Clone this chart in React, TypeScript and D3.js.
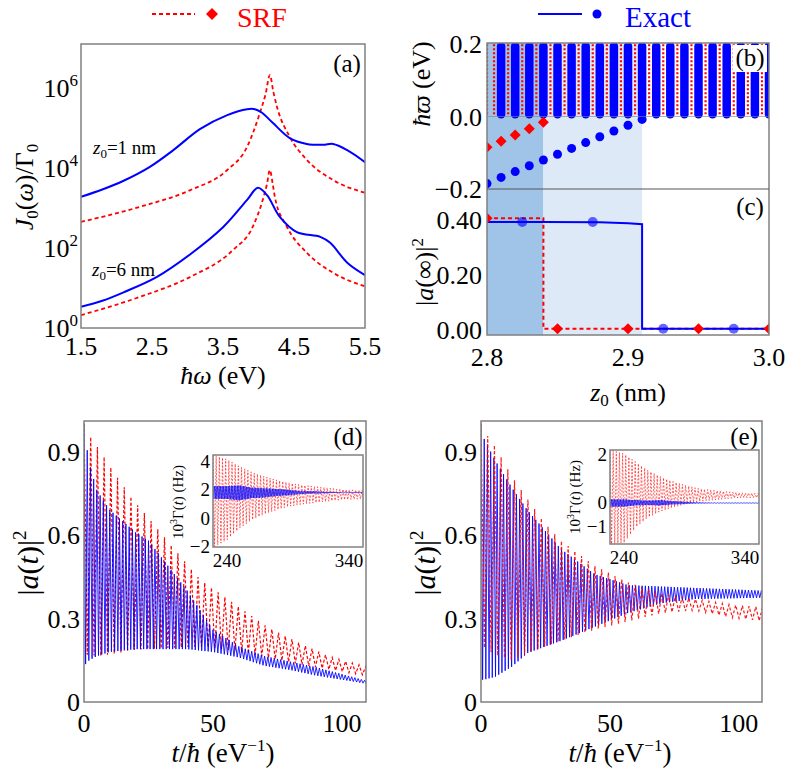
import React from "react";
import * as d3 from "d3";

const FONT = '"Liberation Serif", "Times New Roman", Times, "DejaVu Serif", serif';
const BLUE = "#0000ff";
const RED = "#ff0000";
const FRAME = "#808080";
const SHADE_DARK = "#a0c4e8";
const SHADE_LIGHT = "#dde9f6";

// ---- (a) spectral density J0(w)/Gamma0
const wExact1 = [1.5, 1.8, 2.1, 2.47, 2.8, 3.18, 3.56, 3.84, 3.95, 4.05, 4.2, 4.44, 4.68, 4.91, 5.05, 5.25, 5.5];
const jExact1 = [1.9e3, 2.9e3, 4.8e3, 1.07e4, 2.8e4, 9.5e4, 2.1e5, 2.95e5, 2.95e5, 2.4e5, 1.35e5, 5.6e4, 4.0e4, 3.8e4, 4.0e4, 2.8e4, 1.4e4];
const wSrf1 = [1.5, 2.33, 3.04, 3.56, 3.84, 4.02, 4.1, 4.16, 4.21, 4.26, 4.44, 4.68, 5.05, 5.5];
const jSrf1 = [450, 1.07e3, 2.8e3, 8.9e3, 3.4e4, 2.4e5, 7.1e5, 2.1e6, 7.9e5, 3.4e5, 6.0e4, 1.6e4, 5.0e3, 2.4e3];
const wExact6 = [1.5, 1.8, 2.1, 2.57, 3.04, 3.5, 3.84, 3.99, 4.12, 4.3, 4.54, 4.87, 5.01, 5.25, 5.5];
const jExact6 = [3.4, 4.8, 7.8, 19, 70, 330, 1.6e3, 3.2e3, 2.1e3, 600, 250, 190, 135, 43, 21];
const wSrf6 = [1.5, 2.33, 3.04, 3.64, 3.92, 4.06, 4.12, 4.16, 4.2, 4.23, 4.4, 4.68, 5.05, 5.5];
const jSrf6 = [2.1, 6.0, 19, 89, 340, 1.6e3, 4.0e3, 8.9e3, 4.0e3, 1.9e3, 340, 76, 24, 11];
const aXTicks = [1.5, 2.5, 3.5, 4.5, 5.5];
const aYTicks = [0, 2, 4, 6];

// ---- (b) bound state energies and continuum columns
const zBoundExact = [2.8, 2.81, 2.82, 2.83, 2.84, 2.85, 2.86, 2.87, 2.88, 2.89, 2.9, 2.91];
const eBoundExact = [-0.185, -0.168, -0.152, -0.136, -0.12, -0.104, -0.088, -0.072, -0.056, -0.04, -0.024, -0.008];
const zBoundSrf = [2.8, 2.81, 2.82, 2.83, 2.84];
const eBoundSrf = [-0.085, -0.068, -0.051, -0.034, -0.016];
const zContExact = [2.81, 2.82, 2.83, 2.84, 2.85, 2.86, 2.87, 2.88, 2.89, 2.9, 2.91, 2.92, 2.93, 2.94, 2.95, 2.96, 2.97, 2.98, 2.99, 3.0];
const zContSrf = [2.8, 2.805, 2.815, 2.825, 2.835, 2.845, 2.855, 2.865, 2.875, 2.885, 2.895, 2.905, 2.915, 2.925, 2.935, 2.945, 2.955, 2.965, 2.975, 2.985, 2.995];
const contRange = [0.006, 0.194];
const bYTicks = [0.2, 0, -0.2];
const bYLabels = ["0.2", "0.0", "\u22120.2"];

// ---- (c) steady-state population
const zStepExact = [2.8, 2.84, 2.88, 2.9, 2.91, 2.91, 3.0];
const pStepExact = [0.393, 0.393, 0.392, 0.388, 0.385, 0.005, 0.005];
const zStepSrf = [2.8, 2.84, 2.84, 3.0];
const pStepSrf = [0.407, 0.407, 0.005, 0.005];
const zMarkExact = [2.825, 2.875, 2.925, 2.975];
const pMarkExact = [0.393, 0.393, 0.005, 0.005];
const zMarkSrf = [2.8, 2.85, 2.9, 2.95, 3.0];
const pMarkSrf = [0.407, 0.005, 0.005, 0.005, 0.005];
const cYTicks = [0.4, 0.2, 0.0];
const cXTicks = [2.8, 2.9, 3.0];
const zShadeDark = [2.8, 2.84];
const zShadeLight = [2.84, 2.91];

// ---- (d) |a(t)|^2 envelopes (upper / lower of the fast oscillation)
const tExactD = [0, 1, 2, 5, 10, 20, 25, 30, 35, 40, 45, 50, 60, 70, 80, 90, 100, 110];
const upExactD = [1.0, 0.92, 0.86, 0.76, 0.69, 0.61, 0.58, 0.52, 0.46, 0.4, 0.33, 0.26, 0.2, 0.165, 0.145, 0.125, 0.1, 0.075];
const loExactD = [0.13, 0.14, 0.15, 0.165, 0.18, 0.19, 0.19, 0.19, 0.19, 0.19, 0.185, 0.18, 0.16, 0.13, 0.115, 0.095, 0.08, 0.065];
const tSrfD = [0, 1.3, 6, 12.7, 19, 25.6, 32, 45, 58, 71, 84, 96, 110];
const upSrfD = [1.0, 0.97, 0.906, 0.81, 0.727, 0.655, 0.583, 0.44, 0.355, 0.27, 0.21, 0.16, 0.125];
const loSrfD = [0.17, 0.17, 0.165, 0.175, 0.187, 0.19, 0.194, 0.2, 0.185, 0.16, 0.135, 0.115, 0.095];

// ---- (e)
const tExactE = [0, 1, 5.4, 12, 18, 31, 44, 57, 70, 83, 110];
const upExactE = [1.0, 0.95, 0.87, 0.77, 0.69, 0.55, 0.46, 0.42, 0.415, 0.41, 0.4];
const loExactE = [0.08, 0.08, 0.09, 0.127, 0.176, 0.22, 0.27, 0.32, 0.355, 0.37, 0.375];
const tSrfE = [0, 0.4, 5.4, 12, 18, 25, 31, 44, 57, 70, 83, 96, 110];
const upSrfE = [1.0, 0.985, 0.92, 0.81, 0.73, 0.64, 0.58, 0.49, 0.43, 0.39, 0.37, 0.35, 0.34];
const loSrfE = [0.2, 0.2, 0.17, 0.15, 0.175, 0.2, 0.22, 0.26, 0.29, 0.32, 0.33, 0.305, 0.29];
const mainXTicks = [0, 50, 100];
const mainYTicks = [0, 0.3, 0.6, 0.9];
const mainYLabels = ["0", "0.3", "0.6", "0.9"];

// ---- insets 10^3 Gamma(t)
const tInset = [229, 240, 250, 260, 270, 280, 290, 300, 310, 320, 330, 340, 352];
const upSrfDI = [4.5, 4.2, 3.7, 3.3, 3.0, 2.75, 2.55, 2.4, 2.3, 2.2, 2.1, 2.05, 2.0];
const loSrfDI = [-2.0, -1.5, -0.7, -0.1, 0.3, 0.6, 0.85, 1.0, 1.1, 1.2, 1.3, 1.35, 1.4];
const upExactDI = [2.3, 2.3, 2.35, 2.2, 2.15, 2.1, 2.05, 1.95, 1.95, 1.9, 1.88, 1.87, 1.86];
const loExactDI = [1.4, 1.4, 1.3, 1.45, 1.5, 1.6, 1.65, 1.75, 1.78, 1.8, 1.82, 1.83, 1.84];
const upSrfEI = [2.2, 2.05, 1.7, 1.35, 1.1, 0.9, 0.75, 0.62, 0.55, 0.5, 0.45, 0.42, 0.4];
const loSrfEI = [-1.7, -1.65, -1.0, -0.6, -0.35, -0.2, -0.05, 0.05, 0.1, 0.15, 0.2, 0.22, 0.22];
const upExactEI = [0.15, 0.15, 0.12, 0.1, 0.12, 0.08, 0.05, 0.03, 0.02, 0.015, 0.01, 0.01, 0.01];
const loExactEI = [-0.15, -0.15, -0.1, -0.08, -0.1, -0.06, -0.04, -0.02, -0.015, -0.01, -0.01, -0.01, -0.01];
const insetXTicks = [240, 340];
const dInsetYTicks = [4, 2, 0, -2];
const dInsetYLabels = ["4", "2", "0", "\u22122"];
const eInsetYTicks = [2, 0, -1];
const eInsetYLabels = ["2", "0", "\u22121"];

const PERIOD_EXACT = 1.25;
const PERIOD_SRF = 2.6;

type Pt = [number, number];

// fast oscillation drawn between the read envelopes
function zigzag(ts: number[], up: number[], lo: number[], period: number, t0: number, t1: number): Pt[] {
  const fu = d3.scaleLinear(ts, up).clamp(true);
  const fl = d3.scaleLinear(ts, lo).clamp(true);
  return d3.range(t0, t1 + period / 2, period / 2).map((t, i) => [t, i % 2 === 0 ? fu(t) : fl(t)] as Pt);
}

const zip = (a: number[], b: number[]): Pt[] => a.map((v, i) => [v, b[i]] as Pt);

const Frame = ({ x0, x1, y0, y1 }: { x0: number; x1: number; y0: number; y1: number }) => (
  <rect x={x0} y={y0} width={x1 - x0} height={y1 - y0} fill="none" stroke={FRAME} strokeWidth={1.5} />
);

const Diamond = ({ x, y, s }: { x: number; y: number; s: number }) => (
  <path d={`M${x},${y - s}L${x + s},${y}L${x},${y + s}L${x - s},${y}Z`} fill={RED} />
);

export default function App() {
  // (a)
  const xA = d3.scaleLinear([1.5, 5.5], [81, 365]);
  const yA = d3.scaleLog([1, Math.pow(10, 7.1)], [328, 44]);
  const lineAs = d3.line<Pt>().x((d) => xA(d[0])).y((d) => yA(d[1])).curve(d3.curveCatmullRom.alpha(0.5));
  const lineAr = d3.line<Pt>().x((d) => xA(d[0])).y((d) => yA(d[1])).curve(d3.curveMonotoneX);

  // (b)/(c)
  const xB = d3.scaleLinear([2.8, 3.0], [487, 769]);
  const yB = d3.scaleLinear([-0.2, 0.2], [189, 44]);
  const yC = d3.scaleLinear([-0.018, 0.513], [335, 189]);
  const lineC = d3.line<Pt>().x((d) => xB(d[0])).y((d) => yC(d[1]));

  // (d)/(e)
  const xD = d3.scaleLinear([0, 109.3], [84, 366]);
  const xE = d3.scaleLinear([0, 109], [481, 762]);
  const yMain = d3.scaleLinear([0, 1.01], [702, 421]);
  const xDI = d3.scaleLinear([228.5, 351.5], [213, 363]);
  const yDI = d3.scaleLinear([-2, 4.5], [547, 455]);
  const xEI = d3.scaleLinear([228.5, 351.5], [610, 759]);
  const yEI = d3.scaleLinear([-1.7, 2.2], [544, 450]);

  const mk = (x: d3.ScaleLinear<number, number>, y: d3.ScaleLinear<number, number>) =>
    d3.line<Pt>().x((d) => x(d[0])).y((d) => y(d[1]));

  const lineD = mk(xD, yMain);
  const lineE = mk(xE, yMain);
  const lineDI = mk(xDI, yDI);
  const lineEI = mk(xEI, yEI);

  const tick = { fontSize: 26, fill: "#000" } as const;
  const small = { fontSize: 19, fill: "#000" } as const;

  return (
    <svg width={789} height={775} style={{ position: "absolute", left: 0, top: 0, background: "#fff", fontFamily: FONT }}>
      <style>{`text, tspan { font-family: ${FONT}; }`}</style>
      <defs>
        <clipPath id="clipA"><rect x={81} y={44} width={284} height={284} /></clipPath>
        <clipPath id="clipB"><rect x={487} y={43} width={282} height={146} /></clipPath>
        <clipPath id="clipC"><rect x={487} y={189} width={282} height={146} /></clipPath>
        <clipPath id="clipD"><rect x={84} y={421} width={282} height={281} /></clipPath>
        <clipPath id="clipE"><rect x={481} y={421} width={281} height={281} /></clipPath>
        <clipPath id="clipDI"><rect x={213} y={455} width={150} height={92} /></clipPath>
        <clipPath id="clipEI"><rect x={610} y={450} width={149} height={94} /></clipPath>
      </defs>

      {/* legend */}
      <line x1={152} x2={195} y1={14} y2={14} stroke={RED} strokeWidth={2} strokeDasharray="4,3" />
      <Diamond x={212} y={14} s={6} />
      <text x={237} y={27} fontSize={28} fill={RED}>SRF</text>
      <line x1={538} x2={582} y1={14} y2={14} stroke={BLUE} strokeWidth={2} />
      <circle cx={597} cy={14} r={4.5} fill={BLUE} />
      <text x={625} y={27} fontSize={29} fill={BLUE}>Exact</text>

      {/* ---------- (a) ---------- */}
      <g clipPath="url(#clipA)">
        <path d={lineAr(zip(wSrf1, jSrf1)) || ""} fill="none" stroke={RED} strokeWidth={1.8} strokeDasharray="4,3" />
        <path d={lineAr(zip(wSrf6, jSrf6)) || ""} fill="none" stroke={RED} strokeWidth={1.8} strokeDasharray="4,3" />
        <path d={lineAs(zip(wExact1, jExact1)) || ""} fill="none" stroke={BLUE} strokeWidth={2} />
        <path d={lineAs(zip(wExact6, jExact6)) || ""} fill="none" stroke={BLUE} strokeWidth={2} />
      </g>
      <Frame x0={81} x1={365} y0={44} y1={328} />
      {aXTicks.map((t) => (
        <text key={t} x={xA(t)} y={355} textAnchor="middle" {...tick}>{t.toFixed(1)}</text>
      ))}
      {aYTicks.map((p) => (
        <text key={p} x={78} y={yA(Math.pow(10, p)) + 9} textAnchor="end" fontSize={26}>
          10<tspan fontSize={17} dy={-11}>{p}</tspan>
        </text>
      ))}
      <text x={223} y={384} textAnchor="middle" fontSize={26}>
        <tspan fontStyle="italic">ħω</tspan> (eV)
      </text>
      <text transform="translate(33,187) rotate(-90)" textAnchor="middle" fontSize={26}>
        <tspan fontStyle="italic">J</tspan><tspan fontSize={17} dy={5}>0</tspan><tspan dy={-5}>(</tspan>
        <tspan fontStyle="italic">ω</tspan>)/Γ<tspan fontSize={17} dy={5}>0</tspan>
      </text>
      <text x={93} y={154} fontSize={19}>
        <tspan fontStyle="italic">z</tspan><tspan fontSize={13} dy={4}>0</tspan><tspan dy={-4}>=1 nm</tspan>
      </text>
      <text x={92} y={276} fontSize={19}>
        <tspan fontStyle="italic">z</tspan><tspan fontSize={13} dy={4}>0</tspan><tspan dy={-4}>=6 nm</tspan>
      </text>
      <text x={347} y={72} textAnchor="middle" fontSize={25}>(a)</text>

      {/* ---------- (b) + (c) shading ---------- */}
      <rect x={xB(zShadeDark[0])} y={43} width={xB(zShadeDark[1]) - xB(zShadeDark[0])} height={292} fill={SHADE_DARK} />
      <rect x={xB(zShadeLight[0])} y={43} width={xB(zShadeLight[1]) - xB(zShadeLight[0])} height={292} fill={SHADE_LIGHT} />

      {/* (b) */}
      <g clipPath="url(#clipB)">
        {zContSrf.map((z) => (
          <line key={"r" + z} x1={xB(z)} x2={xB(z)} y1={yB(contRange[0])} y2={yB(0.2)} stroke={RED}
            strokeWidth={2.2} strokeDasharray="2,2" />
        ))}
        {zContExact.map((z) => (
          <line key={"b" + z} x1={xB(z)} x2={xB(z)} y1={yB(contRange[0])} y2={yB(contRange[1])} stroke={BLUE}
            strokeWidth={8.5} strokeLinecap="round" />
        ))}
        {zBoundSrf.map((z, i) => (
          <Diamond key={"d" + z} x={xB(z)} y={yB(eBoundSrf[i])} s={5.5} />
        ))}
        {zBoundExact.map((z, i) => (
          <circle key={"c" + z} cx={xB(z)} cy={yB(eBoundExact[i])} r={4.5} fill={BLUE} />
        ))}
      </g>
      <line x1={487} x2={769} y1={yB(0)} y2={yB(0)} stroke={FRAME} strokeWidth={1} opacity={0.6} />
      <rect x={733} y={45} width={34} height={27} fill="#fff" />
      <text x={750} y={66} textAnchor="middle" fontSize={25}>(b)</text>
      {bYTicks.map((v, i) => (
        <text key={v} x={482} y={yB(v) + 9} textAnchor="end" {...tick}>{bYLabels[i]}</text>
      ))}
      <text transform="translate(430,84) rotate(-90)" textAnchor="middle" fontSize={26}>
        <tspan fontStyle="italic">ħϖ</tspan> (eV)
      </text>

      {/* (c) */}
      <g clipPath="url(#clipC)">
        <path d={lineC(zip(zStepSrf, pStepSrf)) || ""} fill="none" stroke={RED} strokeWidth={2} strokeDasharray="4,3" />
        <path d={lineC(zip(zStepExact, pStepExact)) || ""} fill="none" stroke={BLUE} strokeWidth={2} />
        {zMarkSrf.map((z, i) => (
          <Diamond key={z} x={xB(z)} y={yC(pMarkSrf[i])} s={5.5} />
        ))}
        {zMarkExact.map((z, i) => (
          <circle key={z} cx={xB(z)} cy={yC(pMarkExact[i])} r={5} fill={BLUE} opacity={0.6} />
        ))}
      </g>
      <text x={750} y={215} textAnchor="middle" fontSize={25}>(c)</text>
      {cYTicks.map((v) => (
        <text key={v} x={482} y={yC(v) + 9} textAnchor="end" {...tick}>{v.toFixed(2)}</text>
      ))}
      {cXTicks.map((v) => (
        <text key={v} x={xB(v)} y={366} textAnchor="middle" {...tick}>{v.toFixed(1)}</text>
      ))}
      <text transform="translate(433,272) rotate(-90)" textAnchor="middle" fontSize={26}>
        |<tspan fontStyle="italic">a</tspan>(∞)|<tspan fontSize={17} dy={-10}>2</tspan>
      </text>
      <text x={628} y={401} textAnchor="middle" fontSize={26}>
        <tspan fontStyle="italic">z</tspan><tspan fontSize={17} dy={5}>0</tspan><tspan dy={-5}> (nm)</tspan>
      </text>
      <Frame x0={487} x1={769} y0={43} y1={335} />
      <line x1={487} x2={769} y1={189} y2={189} stroke="#555" strokeWidth={1.2} />

      {/* ---------- (d) ---------- */}
      <g clipPath="url(#clipD)">
        <path d={lineD(zigzag(tSrfD, upSrfD, loSrfD, PERIOD_SRF, 0, 110)) || ""} fill="none" stroke={RED}
          strokeWidth={1.2} strokeDasharray="3,2" />
        <path d={lineD(zigzag(tExactD, upExactD, loExactD, PERIOD_EXACT, 0, 110)) || ""} fill="none" stroke={BLUE}
          strokeWidth={1} opacity={0.85} />
      </g>
      <Frame x0={84} x1={366} y0={421} y1={702} />
      {mainXTicks.map((v) => (
        <text key={v} x={xD(v)} y={732} textAnchor="middle" {...tick}>{v}</text>
      ))}
      {mainYTicks.map((v, i) => (
        <text key={v} x={80} y={yMain(v) + 9} textAnchor="end" {...tick}>{mainYLabels[i]}</text>
      ))}
      <text x={348} y={445} textAnchor="middle" fontSize={25}>(d)</text>

      <rect x={213} y={455} width={150} height={92} fill="#fff" />
      <g clipPath="url(#clipDI)">
        <path d={lineDI(zigzag(tInset, upSrfDI, loSrfDI, PERIOD_SRF, 228.5, 352)) || ""} fill="none" stroke={RED}
          strokeWidth={1} strokeDasharray="2,1.5" opacity={0.6} />
        <path d={lineDI(zigzag(tInset, upExactDI, loExactDI, PERIOD_EXACT, 228.5, 352)) || ""} fill="none"
          stroke={BLUE} strokeWidth={0.9} opacity={0.75} />
      </g>
      <Frame x0={213} x1={363} y0={455} y1={547} />
      {insetXTicks.map((v) => (
        <text key={v} x={xDI(v)} y={567} textAnchor="middle" {...small}>{v}</text>
      ))}
      {dInsetYTicks.map((v, i) => (
        <text key={v} x={210} y={yDI(v) + 6} textAnchor="end" {...small}>{dInsetYLabels[i]}</text>
      ))}
      <text transform="translate(183,502) rotate(-90)" textAnchor="middle" fontSize={15}>
        10<tspan fontSize={10} dy={-6}>3</tspan><tspan dy={6}>Γ(</tspan><tspan fontStyle="italic">t</tspan>) (Hz)
      </text>

      {/* ---------- (e) ---------- */}
      <g clipPath="url(#clipE)">
        <path d={lineE(zigzag(tExactE, upExactE, loExactE, PERIOD_EXACT, 0, 110)) || ""} fill="none" stroke={BLUE}
          strokeWidth={1} opacity={0.85} />
        <path d={lineE(zigzag(tSrfE, upSrfE, loSrfE, PERIOD_SRF, 0, 110)) || ""} fill="none" stroke={RED}
          strokeWidth={1.2} strokeDasharray="3,2" opacity={0.9} />
      </g>
      <Frame x0={481} x1={762} y0={421} y1={702} />
      {mainXTicks.map((v) => (
        <text key={v} x={xE(v)} y={732} textAnchor="middle" {...tick}>{v}</text>
      ))}
      {mainYTicks.map((v, i) => (
        <text key={v} x={477} y={yMain(v) + 9} textAnchor="end" {...tick}>{mainYLabels[i]}</text>
      ))}
      <text x={744} y={445} textAnchor="middle" fontSize={25}>(e)</text>

      <rect x={610} y={450} width={149} height={94} fill="#fff" />
      <g clipPath="url(#clipEI)">
        <path d={lineEI(zigzag(tInset, upSrfEI, loSrfEI, PERIOD_SRF, 228.5, 352)) || ""} fill="none" stroke={RED}
          strokeWidth={1} strokeDasharray="2,1.5" opacity={0.6} />
        <path d={lineEI(zigzag(tInset, upExactEI, loExactEI, PERIOD_EXACT, 228.5, 352)) || ""} fill="none"
          stroke={BLUE} strokeWidth={0.9} opacity={0.75} />
      </g>
      <Frame x0={610} x1={759} y0={450} y1={544} />
      {insetXTicks.map((v) => (
        <text key={v} x={xEI(v)} y={564} textAnchor="middle" {...small}>{v}</text>
      ))}
      {eInsetYTicks.map((v, i) => (
        <text key={v} x={607} y={yEI(v) + 6} textAnchor="end" {...small}>{eInsetYLabels[i]}</text>
      ))}
      <text transform="translate(580,497) rotate(-90)" textAnchor="middle" fontSize={15}>
        10<tspan fontSize={10} dy={-6}>3</tspan><tspan dy={6}>Γ(</tspan><tspan fontStyle="italic">t</tspan>) (Hz)
      </text>

      {/* bottom axis titles */}
      {[223, 620].map((cx) => (
        <text key={cx} x={cx} y={762} textAnchor="middle" fontSize={27}>
          <tspan fontStyle="italic">t</tspan>/<tspan fontStyle="italic">ħ</tspan> (eV<tspan fontSize={17} dy={-11}>−1</tspan><tspan dy={11}>)</tspan>
        </text>
      ))}
      {[38, 435].map((cx) => (
        <text key={cx} transform={`translate(${cx},563) rotate(-90)`} textAnchor="middle" fontSize={30}>
          |<tspan fontStyle="italic">a</tspan>(<tspan fontStyle="italic">t</tspan>)|<tspan fontSize={19} dy={-12}>2</tspan>
        </text>
      ))}
    </svg>
  );
}
